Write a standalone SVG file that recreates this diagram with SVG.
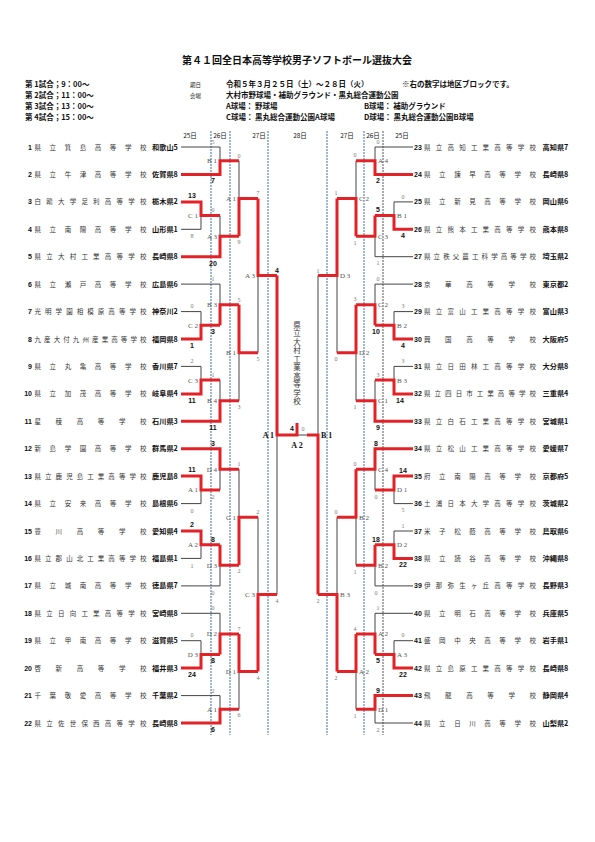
<svg xmlns="http://www.w3.org/2000/svg" width="595" height="842" viewBox="0 0 595 842">
<style>
.t{font-family:"Noto Sans CJK JP",sans-serif;fill:#111}
.title{font-size:10px;font-weight:bold;text-anchor:middle}
.h{font-size:7.5px;font-weight:bold}
.hs{font-size:5.5px}
.d{font-size:6.5px;text-anchor:middle}
.vt{font-family:"Noto Sans CJK JP",sans-serif;font-size:7.5px;fill:#333;writing-mode:vertical-rl;text-orientation:upright;letter-spacing:1px}
.nm{font-family:"Noto Sans CJK JP",sans-serif;font-size:6.5px;fill:#333}
.no{font-family:"Liberation Sans",sans-serif;font-size:7px;font-weight:bold;fill:#111}
.pf{font-family:"Noto Sans CJK JP",sans-serif;font-size:7.2px;font-weight:bold;fill:#111}
.sc{font-family:"Liberation Serif",serif;font-size:6px;fill:#777;text-anchor:middle}
.sb{font-family:"Liberation Sans",sans-serif;font-size:7px;font-weight:bold;fill:#111;text-anchor:middle}
.lb{font-family:"Liberation Serif",serif;font-size:7px;fill:#555}
.lbb{font-family:"Liberation Serif",serif;font-size:8px;font-weight:bold;fill:#111}
.r{stroke:#e32227;stroke-width:3;fill:none}
.g{stroke:#444;stroke-width:1;fill:none}
.v{stroke:#8a8a8a;stroke-width:1.6;fill:none}
.bl{stroke:#3b6fa8;stroke-width:1;stroke-dasharray:2 1;fill:none}
.bk{stroke:#555;stroke-width:1;stroke-dasharray:2 1;fill:none}
</style>
<rect width="595" height="842" fill="#fff"/>

<g id="header">
<text class="t title" x="297" y="64">第４１回全日本高等学校男子ソフトボール選抜大会</text>
<text class="t h" x="25" y="87">第 1試合；9：00～</text>
<text class="t h" x="25" y="98">第 2試合；11：00～</text>
<text class="t h" x="25" y="109">第 3試合；13：00～</text>
<text class="t h" x="25" y="120">第 4試合；15：00～</text>
<text class="t hs" x="190" y="87">期日</text>
<text class="t hs" x="190" y="98">会場</text>
<text class="t h" x="226" y="87" font-weight="normal" font-size="7.3">令和５年３月２５日（土）～２８日（火）</text>
<text class="t h" x="402" y="87" font-weight="normal" font-size="6.5">※右の数字は地区ブロックです。</text>
<text class="t h" x="226" y="98" font-size="8">大村市野球場・補助グラウンド・黒丸総合運動公園</text>
<text class="t h" x="226" y="109" font-size="7.5">A球場： 野球場</text>
<text class="t h" x="364" y="109" font-size="7.5">B球場： 補助グラウンド</text>
<text class="t h" x="226" y="120" font-size="7.5">C球場： 黒丸総合運動公園A球場</text>
<text class="t h" x="364" y="120" font-size="7.5">D球場： 黒丸総合運動公園B球場</text>
<text class="t d" x="190" y="138">25日</text>
<text class="t d" x="220" y="138">26日</text>
<text class="t d" x="259" y="138">27日</text>
<text class="t d" x="300" y="138">28日</text>
<text class="t d" x="347" y="138">27日</text>
<text class="t d" x="373" y="138">26日</text>
<text class="t d" x="402" y="138">25日</text>
</g>

<g id="day-lines">
<path class="bl" d="M211 131V735M230 131V735M268 131V735M327 131V735M364 131V735"/>
<path class="bk" d="M383 131V735"/>
</g>

<g id="connectors">
<path class="g" d="M181 147H220V160.7M181 229.3H201V215.6M220 215.6V236.2M181 284.1H220V304.7M181 311.6H201V325.3M181 366.4H201V380.1M220 380.1V400.7M181 503.6H201V489.9M220 469.3V489.9M181 558.4H201V544.7M181 585.9H220V565.3M181 613.3H220V633.9M181 640.7H201V654.4M181 695.6H220V709.3"/>
<path class="v" d="M239 160.7V198.4M239 352.7V400.7M258 275.6V352.7M239 469.3V517.3M239 671.6V709.3M258 517.3V594.5M277 435V594.5"/>
<path class="g" d="M413 147H375V160.7M413 201.9H394V215.6M413 256.7H375V236.2M413 284.1H375V304.7M413 311.6H394V325.3M413 366.4H394V380.1M375 380.1V400.7M413 503.6H394V489.9M375 469.3V489.9M413 531H394V544.7M413 585.9H375V565.3M413 613.3H375V633.9M413 640.7H394V654.4M413 723H375V709.3M297 435H308"/>
<path class="v" d="M356 160.7V198.4M356 352.7V400.7M337 275.6V352.7M356 517.3V565.3M356 671.6V709.3M337 517.3V594.5M318 275.6V435"/>
<path class="r" d="M181 174.4H220V160.7H239M181 201.9H201V215.6H220M181 256.7H220V236.2H239M239 236.2V198.4H258M181 339H201V325.3H220M220 325.3V304.7H239M181 393.9H201V380.1H220M181 421.3H220V400.7H239M239 304.7V352.7H258M258 198.4V275.6H277M277 275.6V435H297V423M181 476.1H201V489.9H220M181 448.7H220V469.3H239M181 531H201V544.7H220M220 544.7V565.3H239M239 565.3V517.3H258M181 668.1H201V654.4H220M220 654.4V633.9H239M181 723H220V709.3H239M239 633.9V671.6H258M258 671.6V594.5H277"/>
<path class="r" d="M413 174.4H375V160.7H356M413 229.3H394V215.6H375M375 215.6V236.2H356M356 236.2V198.4H337M413 339H394V325.3H375M375 325.3V304.7H356M413 393.9H394V380.1H375M413 421.3H375V400.7H356M356 304.7V352.7H337M337 198.4V275.6H318M413 448.7H375V469.3H356M413 476.1H394V489.9H375M413 558.4H394V544.7H375M375 544.7V565.3H356M356 469.3V517.3H337M413 668.1H394V654.4H375M375 654.4V633.9H356M413 695.6H375V709.3H356M356 633.9V671.6H337M337 671.6V594.5H318M318 594.5V435H307"/>
</g>

<g id="teams-left">
<g id="team1"><text class="no" x="32" y="149.5" text-anchor="end">1</text><text class="nm" x="34.5" y="149.5" textLength="112" lengthAdjust="spacing">県立箕島高等学校</text><text class="pf" x="152" y="149.5">和歌山5</text></g>
<g id="team2"><text class="no" x="32" y="176.9" text-anchor="end">2</text><text class="nm" x="34.5" y="176.9" textLength="112" lengthAdjust="spacing">県立牛津高等学校</text><text class="pf" x="152" y="176.9">佐賀県8</text></g>
<g id="team3"><text class="no" x="32" y="204.4" text-anchor="end">3</text><text class="nm" x="34.5" y="204.4" textLength="112" lengthAdjust="spacing">白鴎大学足利高等学校</text><text class="pf" x="152" y="204.4">栃木県2</text></g>
<g id="team4"><text class="no" x="32" y="231.8" text-anchor="end">4</text><text class="nm" x="34.5" y="231.8" textLength="112" lengthAdjust="spacing">県立南陽高等学校</text><text class="pf" x="152" y="231.8">山形県1</text></g>
<g id="team5"><text class="no" x="32" y="259.2" text-anchor="end">5</text><text class="nm" x="34.5" y="259.2" textLength="112" lengthAdjust="spacing">県立大村工業高等学校</text><text class="pf" x="152" y="259.2">長崎県8</text></g>
<g id="team6"><text class="no" x="32" y="286.6" text-anchor="end">6</text><text class="nm" x="34.5" y="286.6" textLength="112" lengthAdjust="spacing">県立瀬戸高等学校</text><text class="pf" x="152" y="286.6">広島県6</text></g>
<g id="team7"><text class="no" x="32" y="314.1" text-anchor="end">7</text><text class="nm" x="34.5" y="314.1" textLength="112" lengthAdjust="spacing">光明学園相模原高等学校</text><text class="pf" x="152" y="314.1">神奈川2</text></g>
<g id="team8"><text class="no" x="32" y="341.5" text-anchor="end">8</text><text class="nm" x="34.5" y="341.5" textLength="112" lengthAdjust="spacing">九産大付九州産業高等学校</text><text class="pf" x="152" y="341.5">福岡県8</text></g>
<g id="team9"><text class="no" x="32" y="368.9" text-anchor="end">9</text><text class="nm" x="34.5" y="368.9" textLength="112" lengthAdjust="spacing">県立丸亀高等学校</text><text class="pf" x="152" y="368.9">香川県7</text></g>
<g id="team10"><text class="no" x="32" y="396.4" text-anchor="end">10</text><text class="nm" x="34.5" y="396.4" textLength="112" lengthAdjust="spacing">県立加茂高等学校</text><text class="pf" x="152" y="396.4">岐阜県4</text></g>
<g id="team11"><text class="no" x="32" y="423.8" text-anchor="end">11</text><text class="nm" x="34.5" y="423.8" textLength="112" lengthAdjust="spacing">星稜高等学校</text><text class="pf" x="152" y="423.8">石川県3</text></g>
<g id="team12"><text class="no" x="32" y="451.2" text-anchor="end">12</text><text class="nm" x="34.5" y="451.2" textLength="112" lengthAdjust="spacing">新島学園高等学校</text><text class="pf" x="152" y="451.2">群馬県2</text></g>
<g id="team13"><text class="no" x="32" y="478.6" text-anchor="end">13</text><text class="nm" x="34.5" y="478.6" textLength="112" lengthAdjust="spacing">県立鹿児島工業高等学校</text><text class="pf" x="152" y="478.6">鹿児島8</text></g>
<g id="team14"><text class="no" x="32" y="506.1" text-anchor="end">14</text><text class="nm" x="34.5" y="506.1" textLength="112" lengthAdjust="spacing">県立安来高等学校</text><text class="pf" x="152" y="506.1">島根県6</text></g>
<g id="team15"><text class="no" x="32" y="533.5" text-anchor="end">15</text><text class="nm" x="34.5" y="533.5" textLength="112" lengthAdjust="spacing">豊川高等学校</text><text class="pf" x="152" y="533.5">愛知県4</text></g>
<g id="team16"><text class="no" x="32" y="560.9" text-anchor="end">16</text><text class="nm" x="34.5" y="560.9" textLength="112" lengthAdjust="spacing">県立郡山北工業高等学校</text><text class="pf" x="152" y="560.9">福島県1</text></g>
<g id="team17"><text class="no" x="32" y="588.4" text-anchor="end">17</text><text class="nm" x="34.5" y="588.4" textLength="112" lengthAdjust="spacing">県立城南高等学校</text><text class="pf" x="152" y="588.4">徳島県7</text></g>
<g id="team18"><text class="no" x="32" y="615.8" text-anchor="end">18</text><text class="nm" x="34.5" y="615.8" textLength="112" lengthAdjust="spacing">県立日向工業高等学校</text><text class="pf" x="152" y="615.8">宮崎県8</text></g>
<g id="team19"><text class="no" x="32" y="643.2" text-anchor="end">19</text><text class="nm" x="34.5" y="643.2" textLength="112" lengthAdjust="spacing">県立甲南高等学校</text><text class="pf" x="152" y="643.2">滋賀県5</text></g>
<g id="team20"><text class="no" x="32" y="670.6" text-anchor="end">20</text><text class="nm" x="34.5" y="670.6" textLength="112" lengthAdjust="spacing">啓新高等学校</text><text class="pf" x="152" y="670.6">福井県3</text></g>
<g id="team21"><text class="no" x="32" y="698.1" text-anchor="end">21</text><text class="nm" x="34.5" y="698.1" textLength="112" lengthAdjust="spacing">千葉敬愛高等学校</text><text class="pf" x="152" y="698.1">千葉県2</text></g>
<g id="team22"><text class="no" x="32" y="725.5" text-anchor="end">22</text><text class="nm" x="34.5" y="725.5" textLength="112" lengthAdjust="spacing">県立佐世保西高等学校</text><text class="pf" x="152" y="725.5">長崎県8</text></g>
</g>

<g id="teams-right">
<g id="team23"><text class="no" x="414" y="149.5">23</text><text class="nm" x="424" y="149.5" textLength="112" lengthAdjust="spacing">県立高知工業高等学校</text><text class="pf" x="542.5" y="149.5">高知県7</text></g>
<g id="team24"><text class="no" x="414" y="176.9">24</text><text class="nm" x="424" y="176.9" textLength="112" lengthAdjust="spacing">県立諫早高等学校</text><text class="pf" x="542.5" y="176.9">長崎県8</text></g>
<g id="team25"><text class="no" x="414" y="204.4">25</text><text class="nm" x="424" y="204.4" textLength="112" lengthAdjust="spacing">県立新見高等学校</text><text class="pf" x="542.5" y="204.4">岡山県6</text></g>
<g id="team26"><text class="no" x="414" y="231.8">26</text><text class="nm" x="424" y="231.8" textLength="112" lengthAdjust="spacing">県立熊本工業高等学校</text><text class="pf" x="542.5" y="231.8">熊本県8</text></g>
<g id="team27"><text class="no" x="414" y="259.2">27</text><text class="nm" x="424" y="259.2" textLength="112" lengthAdjust="spacing">県立秩父農工科学高等学校</text><text class="pf" x="542.5" y="259.2">埼玉県2</text></g>
<g id="team28"><text class="no" x="414" y="286.6">28</text><text class="nm" x="424" y="286.6" textLength="112" lengthAdjust="spacing">京華高等学校</text><text class="pf" x="542.5" y="286.6">東京都2</text></g>
<g id="team29"><text class="no" x="414" y="314.1">29</text><text class="nm" x="424" y="314.1" textLength="112" lengthAdjust="spacing">県立富山工業高等学校</text><text class="pf" x="542.5" y="314.1">富山県3</text></g>
<g id="team30"><text class="no" x="414" y="341.5">30</text><text class="nm" x="424" y="341.5" textLength="112" lengthAdjust="spacing">興国高等学校</text><text class="pf" x="542.5" y="341.5">大阪府5</text></g>
<g id="team31"><text class="no" x="414" y="368.9">31</text><text class="nm" x="424" y="368.9" textLength="112" lengthAdjust="spacing">県立日田林工高等学校</text><text class="pf" x="542.5" y="368.9">大分県8</text></g>
<g id="team32"><text class="no" x="414" y="396.4">32</text><text class="nm" x="424" y="396.4" textLength="112" lengthAdjust="spacing">県立四日市工業高等学校</text><text class="pf" x="542.5" y="396.4">三重県4</text></g>
<g id="team33"><text class="no" x="414" y="423.8">33</text><text class="nm" x="424" y="423.8" textLength="112" lengthAdjust="spacing">県立白石工業高等学校</text><text class="pf" x="542.5" y="423.8">宮城県1</text></g>
<g id="team34"><text class="no" x="414" y="451.2">34</text><text class="nm" x="424" y="451.2" textLength="112" lengthAdjust="spacing">県立松山工業高等学校</text><text class="pf" x="542.5" y="451.2">愛媛県7</text></g>
<g id="team35"><text class="no" x="414" y="478.6">35</text><text class="nm" x="424" y="478.6" textLength="112" lengthAdjust="spacing">府立南陽高等学校</text><text class="pf" x="542.5" y="478.6">京都府5</text></g>
<g id="team36"><text class="no" x="414" y="506.1">36</text><text class="nm" x="424" y="506.1" textLength="112" lengthAdjust="spacing">土浦日本大学高等学校</text><text class="pf" x="542.5" y="506.1">茨城県2</text></g>
<g id="team37"><text class="no" x="414" y="533.5">37</text><text class="nm" x="424" y="533.5" textLength="112" lengthAdjust="spacing">米子松蔭高等学校</text><text class="pf" x="542.5" y="533.5">鳥取県6</text></g>
<g id="team38"><text class="no" x="414" y="560.9">38</text><text class="nm" x="424" y="560.9" textLength="112" lengthAdjust="spacing">県立読谷高等学校</text><text class="pf" x="542.5" y="560.9">沖縄県8</text></g>
<g id="team39"><text class="no" x="414" y="588.4">39</text><text class="nm" x="424" y="588.4" textLength="112" lengthAdjust="spacing">伊那弥生ヶ丘高等学校</text><text class="pf" x="542.5" y="588.4">長野県3</text></g>
<g id="team40"><text class="no" x="414" y="615.8">40</text><text class="nm" x="424" y="615.8" textLength="112" lengthAdjust="spacing">県立明石高等学校</text><text class="pf" x="542.5" y="615.8">兵庫県5</text></g>
<g id="team41"><text class="no" x="414" y="643.2">41</text><text class="nm" x="424" y="643.2" textLength="112" lengthAdjust="spacing">盛岡中央高等学校</text><text class="pf" x="542.5" y="643.2">岩手県1</text></g>
<g id="team42"><text class="no" x="414" y="670.6">42</text><text class="nm" x="424" y="670.6" textLength="112" lengthAdjust="spacing">県立島原工業高等学校</text><text class="pf" x="542.5" y="670.6">長崎県8</text></g>
<g id="team43"><text class="no" x="414" y="698.1">43</text><text class="nm" x="424" y="698.1" textLength="112" lengthAdjust="spacing">飛龍高等学校</text><text class="pf" x="542.5" y="698.1">静岡県4</text></g>
<g id="team44"><text class="no" x="414" y="725.5">44</text><text class="nm" x="424" y="725.5" textLength="112" lengthAdjust="spacing">県立日川高等学校</text><text class="pf" x="542.5" y="725.5">山梨県2</text></g>
</g>

<g id="match-labels-left" class="lb" text-anchor="end">
<text x="217" y="163.2">B 1</text>
<text x="198" y="218.1">C 1</text>
<text x="217" y="238.7">A 3</text>
<text x="236" y="200.9">A 1</text>
<text x="198" y="327.8">C 2</text>
<text x="217" y="307.2">B 3</text>
<text x="198" y="382.6">C 3</text>
<text x="217" y="403.2">B 4</text>
<text x="236" y="355.2">B 1</text>
<text x="255" y="278.1">A 3</text>
<text x="198" y="492.4">A 1</text>
<text x="217" y="471.8">D 4</text>
<text x="198" y="547.2">A 2</text>
<text x="217" y="567.8">D 3</text>
<text x="236" y="519.8">C 1</text>
<text x="198" y="656.9">D 3</text>
<text x="217" y="636.4">D 2</text>
<text x="217" y="711.8">A 1</text>
<text x="236" y="674.1">D 1</text>
<text x="255" y="597">C 3</text>
</g>
<g id="match-labels-right" class="lb">
<text x="378" y="163.2">A 4</text>
<text x="397" y="218.1">B 1</text>
<text x="378" y="238.7">C 3</text>
<text x="359" y="200.9">C 2</text>
<text x="397" y="327.8">B 2</text>
<text x="378" y="307.2">C 2</text>
<text x="397" y="382.6">B 3</text>
<text x="378" y="403.2">C 1</text>
<text x="359" y="355.2">D 2</text>
<text x="340" y="278.1">D 3</text>
<text x="397" y="492.4">D 1</text>
<text x="378" y="471.8">C 4</text>
<text x="397" y="547.2">D 2</text>
<text x="378" y="567.8">B 2</text>
<text x="359" y="519.8">B 2</text>
<text x="397" y="656.9">A 3</text>
<text x="378" y="636.4">A 2</text>
<text x="378" y="711.8">D 1</text>
<text x="359" y="674.1">A 2</text>
<text x="340" y="597">B 3</text>
</g>
<g id="final">
<text class="lbb" x="274" y="438" text-anchor="end">A 1</text>
<text class="lbb" x="321" y="438">B 1</text>
<text class="lbb" x="297" y="448" text-anchor="middle">A 2</text>
<text class="sb" x="292" y="431">4</text>
<text class="sc" x="303" y="431">0</text>
<text class="vt" x="297" y="321">県立大村工業高等学校</text>
</g>

<g id="scores-left">
<text class="sb" x="192" y="198">13</text><text class="sc" x="192" y="238">8</text>
<text class="sc" x="192" y="308">0</text><text class="sb" x="192" y="348">1</text>
<text class="sc" x="192" y="362.5">2</text><text class="sb" x="192" y="402.5">11</text>
<text class="sb" x="192" y="472">11</text><text class="sc" x="192" y="512.5">0</text>
<text class="sb" x="192" y="527">2</text><text class="sc" x="192" y="567.5">1</text>
<text class="sc" x="192" y="637">0</text><text class="sb" x="192" y="677">24</text>
<text class="sc" x="213" y="144">5</text><text class="sb" x="213" y="183">7</text>
<text class="sc" x="213" y="212">0</text><text class="sb" x="213" y="265.5">20</text>
<text class="sc" x="213" y="281">1</text><text class="sb" x="213" y="334">3</text>
<text class="sc" x="213" y="377">1</text><text class="sb" x="213" y="430">11</text>
<text class="sb" x="213" y="445.5">3</text><text class="sc" x="213" y="498.5">2</text>
<text class="sb" x="213" y="541.5">8</text><text class="sc" x="213" y="594.5">0</text>
<text class="sc" x="213" y="610">0</text><text class="sb" x="213" y="663">8</text>
<text class="sc" x="213" y="692.5">2</text><text class="sb" x="213" y="732">6</text>
<text class="sc" x="239" y="157.5">0</text><text class="sc" x="239" y="244">9</text>
<text class="sc" x="239" y="301.5">5</text><text class="sc" x="239" y="408.5">3</text>
<text class="sc" x="239" y="466">1</text><text class="sc" x="239" y="573">2</text>
<text class="sc" x="239" y="630.5">7</text><text class="sc" x="239" y="717">6</text>
<text class="sc" x="258" y="195">7</text><text class="sc" x="258" y="360.5">5</text>
<text class="sc" x="258" y="514">2</text><text class="sc" x="258" y="679.5">4</text>
<text class="sb" x="277" y="272.5">4</text><text class="sc" x="277" y="602.5">4</text>
</g>
<g id="scores-right">
<text class="sc" x="403" y="198.5">0</text><text class="sb" x="403" y="238">4</text>
<text class="sc" x="403" y="308">3</text><text class="sb" x="403" y="347.5">4</text>
<text class="sc" x="403" y="363">3</text><text class="sb" x="400" y="402.5">14</text>
<text class="sb" x="403" y="472.5">14</text><text class="sc" x="403" y="512">5</text>
<text class="sc" x="403" y="527.5">1</text><text class="sb" x="403" y="567">22</text>
<text class="sc" x="403" y="637">0</text><text class="sb" x="403" y="676.5">22</text>
<text class="sc" x="378" y="144">0</text><text class="sb" x="378" y="183">2</text>
<text class="sb" x="378" y="212">5</text><text class="sc" x="378" y="265">1</text>
<text class="sc" x="378" y="281">0</text><text class="sb" x="376" y="334">10</text>
<text class="sc" x="378" y="377">3</text><text class="sb" x="378" y="430">9</text>
<text class="sb" x="376" y="445.5">8</text><text class="sc" x="376" y="498.5">0</text>
<text class="sb" x="376" y="541.5">18</text><text class="sc" x="376" y="594.5">0</text>
<text class="sc" x="378" y="610">1</text><text class="sb" x="378" y="663">5</text>
<text class="sb" x="378" y="692.5">9</text><text class="sc" x="378" y="732">2</text>
<text class="sc" x="355" y="157">0</text><text class="sc" x="355" y="244.5">1</text>
<text class="sc" x="355" y="301">3</text><text class="sc" x="355" y="409">1</text>
<text class="sc" x="355" y="466">0</text><text class="sc" x="355" y="573.5">1</text>
<text class="sc" x="355" y="630.5">4</text><text class="sc" x="355" y="717.5">1</text>
<text class="sc" x="336" y="195">1</text><text class="sc" x="336" y="361">0</text>
<text class="sc" x="336" y="514">0</text><text class="sc" x="336" y="680">2</text>
<text class="sc" x="318" y="272.5">1</text><text class="sc" x="318" y="603">2</text>
</g>
</svg>
